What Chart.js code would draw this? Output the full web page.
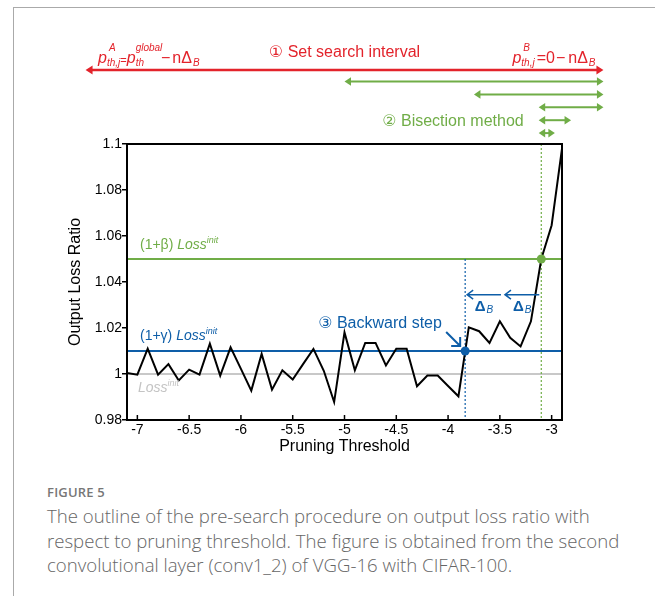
<!DOCTYPE html>
<html>
<head>
<meta charset="utf-8">
<script src="https://cdn.jsdelivr.net/npm/chart.js@4.4.1/dist/chart.umd.min.js"></script>
<style>
  body { margin: 0; background: #fff; width: 655px; height: 596px; overflow: hidden; position: relative; }
  .frame { position: absolute; left: 13px; top: 7px; right: -5px; bottom: -5px; border-top: 1.5px solid #aaa; border-left: 1.5px solid #aaa; }
  #lossChart { position: absolute; left: 0; top: 0; }
  .caption { position: absolute; left: 47px; top: 482px; font-family: "Open Sans", sans-serif; color: #666; }
  .fig-label { font-size: 13px; font-weight: 600; letter-spacing: 0.2px; color: #777; line-height: 20px; }
  .fig-text { font-size: 18.6px; font-weight: 300; line-height: 24.7px; white-space: nowrap; margin-top: 2px; }
</style>
</head>
<body>
<div class="frame"></div>
<canvas id="lossChart" width="655" height="470"></canvas>
<div class="caption">
  <div class="fig-label">FIGURE 5</div>
  <div class="fig-text">The outline of the pre-search procedure on output loss ratio with<br>respect to pruning threshold. The figure is obtained from the second<br>convolutional layer (conv1_2) of VGG-16 with CIFAR-100.</div>
</div>
<script>
// pruning threshold (x) and output loss ratio (y)
const thresholds = [
  -7.1, -7.0, -6.9, -6.8, -6.7, -6.6, -6.5, -6.4, -6.3, -6.2, -6.1,
  -6.0, -5.9, -5.8, -5.7, -5.6, -5.5, -5.4, -5.3, -5.2, -5.1,
  -5.0, -4.9, -4.8, -4.7, -4.6, -4.5, -4.4, -4.3, -4.2, -4.1,
  -4.0, -3.9, -3.8, -3.7, -3.6, -3.5, -3.4, -3.3, -3.2, -3.1,
  -3.0, -2.9,
];
const lossRatio = [
  1.0004, 0.9997, 1.011, 0.9997, 1.0043, 0.9972, 1.0019, 0.9997, 1.0132, 0.9993, 1.0116,
  1.0022, 0.9928, 1.0087, 0.9932, 1.0016, 0.9976, 1.0043, 1.0109, 1.0014, 0.9878,
  1.0181, 1.0016, 1.0135, 1.0135, 1.0037, 1.011, 1.011, 0.9947, 0.9993, 0.9993,
  0.9948, 0.9903, 1.0203, 1.0186, 1.0135, 1.0229, 1.0157, 1.012, 1.0229, 1.05,
  1.0647, 1.098,
];

const xRange = [-7.1, -2.9];
const yRange = [0.98, 1.1];
const xTicks = [-7, -6.5, -6, -5.5, -5, -4.5, -4, -3.5, -3];
const xTickLabels = ["-7", "-6.5", "-6", "-5.5", "-5", "-4.5", "-4", "-3.5", "-3"];
const yTicks = [0.98, 1, 1.02, 1.04, 1.06, 1.08, 1.1];
const yTickLabels = ["0.98", "1", "1.02", "1.04", "1.06", "1.08", "1.1"];

// 기준선
const lossInit = 1.0;
const gammaLevel = 1.01;
const betaLevel = 1.05;
const gammaCross = -3.835;
const betaCross = -3.1;
const deltaArrowLevel = 1.0345;

// search interval / bisection / backward steps
const searchInterval = [-7.5, -2.5];
const bisectionIntervals = [
  [-5, -2.5],
  [-3.75, -2.5],
  [-3.125, -2.5],
  [-3.125, -2.8125],
  [-3.125, -2.96875],
];
const backwardSteps = [-3.1, -3.47, -3.835];

const RED = "#e3232b";
const GREEN = "#70ad47";
const BLUE = "#0e5ea8";
const GRAY = "#c8c8c8";
const FONT = "'Liberation Sans', Arial, 'DejaVu Sans', 'Noto Sans CJK JP', sans-serif";

Chart.defaults.font.family = FONT;
Chart.defaults.color = "#000";

function richText(ctx, x, y, parts) {
  let cx = x;
  parts.forEach((p) => {
    ctx.font = p.f + " " + FONT;
    ctx.fillText(p.t, cx + (p.dx || 0), y + (p.dy || 0));
    if (!p.stack) cx += ctx.measureText(p.t).width + (p.dx || 0);
  });
  return cx;
}

function richWidth(ctx, parts) {
  let w = 0;
  parts.forEach((p) => {
    ctx.font = p.f + " " + FONT;
    if (!p.stack) w += ctx.measureText(p.t).width + (p.dx || 0);
  });
  return w;
}

function doubleArrow(ctx, x1, x2, y, color, lw, hl, hw) {
  ctx.strokeStyle = color;
  ctx.fillStyle = color;
  ctx.lineWidth = lw;
  ctx.beginPath();
  ctx.moveTo(x1 + hl - 1, y);
  ctx.lineTo(x2 - hl + 1, y);
  ctx.stroke();
  [[x1, 1], [x2, -1]].forEach(([tx, d]) => {
    ctx.beginPath();
    ctx.moveTo(tx, y);
    ctx.lineTo(tx + d * hl, y - hw);
    ctx.lineTo(tx + d * hl, y + hw);
    ctx.closePath();
    ctx.fill();
  });
}

const annotations = {
  id: "annotations",
  afterDraw(chart) {
    const { ctx, chartArea: a, scales } = chart;
    const x = scales.x;
    const y = scales.y;
    ctx.save();

    // 플롯 테두리
    ctx.strokeStyle = "#000";
    ctx.lineWidth = 2;
    ctx.strokeRect(a.left, a.top, a.right - a.left, a.bottom - a.top);

    // x축 눈금 (안쪽)
    ctx.lineWidth = 1.5;
    xTicks.forEach((v) => {
      const px = x.getPixelForValue(v);
      ctx.beginPath();
      ctx.moveTo(px, a.bottom);
      ctx.lineTo(px, a.bottom - 5);
      ctx.stroke();
    });

    // ① search interval
    const redY = a.top - 74;
    doubleArrow(ctx, x.getPixelForValue(searchInterval[0]), x.getPixelForValue(searchInterval[1]), redY, RED, 2.5, 7, 4.5);
    ctx.fillStyle = RED;
    ctx.textAlign = "center";
    ctx.font = "16px " + FONT;
    ctx.fillText("\u2460 Set search interval", x.getPixelForValue(-5), a.top - 87);
    ctx.textAlign = "left";
    richText(ctx, x.getPixelForValue(searchInterval[0]) + 12.5, a.top - 81, [
      { t: "p", f: "italic 16px" },
      { t: "A", f: "italic 10px", dy: -12, dx: 2, stack: true },
      { t: "th,j", f: "italic 10px", dy: 3 },
      { t: "=", f: "11px", dy: 1 },
      { t: "p", f: "italic 16px" },
      { t: "global", f: "italic 10px", dy: -12, stack: true },
      { t: "th", f: "italic 10px", dy: 3 },
      { t: "\u2212", f: "16px", dx: 17 },
      { t: "n\u0394", f: "16px", dx: 2 },
      { t: "B", f: "italic 10px", dy: 3, dx: 1 },
    ]);
    richText(ctx, x.getPixelForValue(searchInterval[1]) - 91, a.top - 81, [
      { t: "p", f: "italic 16px" },
      { t: "B", f: "italic 10px", dy: -12, dx: 2, stack: true },
      { t: "th,j", f: "italic 10px", dy: 3 },
      { t: "=0", f: "16px", dx: 2 },
      { t: "\u2212", f: "16px", dx: 1 },
      { t: "n\u0394", f: "16px", dx: 3 },
      { t: "B", f: "italic 10px", dy: 3, dx: 1 },
    ]);

    // ② bisection
    bisectionIntervals.forEach((iv, i) => {
      const ry = a.top - 62.5 + i * 12.9;
      doubleArrow(ctx, x.getPixelForValue(iv[0]), x.getPixelForValue(iv[1]), ry, GREEN, 2, 6.5, 4.3);
    });
    ctx.fillStyle = GREEN;
    ctx.textAlign = "right";
    ctx.font = "16px " + FONT;
    ctx.fillText("\u2461 Bisection method", x.getPixelForValue(bisectionIntervals[3][0]) - 15, a.top - 62.5 + 3 * 12.9 + 5.5);
    ctx.textAlign = "left";

    // 기준선 라벨
    const lossParts = [
      { t: "Loss", f: "italic 14px" },
      { t: "init", f: "italic 9px", dy: -6 },
    ];
    ctx.fillStyle = GREEN;
    richText(ctx, a.left + 13, y.getPixelForValue(betaLevel) - 10, [{ t: "(1+\u03b2) ", f: "14px" }].concat(lossParts));
    ctx.fillStyle = BLUE;
    richText(ctx, a.left + 13, y.getPixelForValue(gammaLevel) - 11, [{ t: "(1+\u03b3) ", f: "14px" }].concat(lossParts));
    ctx.fillStyle = "#c4c4c4";
    richText(ctx, a.left + 11, y.getPixelForValue(lossInit) + 18, lossParts);

    // ③ backward step
    const gx = x.getPixelForValue(gammaCross);
    const gy = y.getPixelForValue(gammaLevel);
    ctx.fillStyle = BLUE;
    ctx.font = "16px " + FONT;
    ctx.fillText("\u2462 Backward step", gx - 147, gy - 23.5);
    ctx.strokeStyle = BLUE;
    ctx.lineWidth = 2;
    ctx.beginPath();
    ctx.moveTo(gx - 19, gy - 19);
    ctx.lineTo(gx - 5, gy - 5);
    ctx.moveTo(gx - 14, gy - 5);
    ctx.lineTo(gx - 5, gy - 5);
    ctx.lineTo(gx - 5, gy - 14);
    ctx.stroke();

    // Δ_B 화살표
    const dy = y.getPixelForValue(deltaArrowLevel);
    ctx.lineWidth = 1.5;
    for (let i = 0; i < backwardSteps.length - 1; i++) {
      const rx = x.getPixelForValue(backwardSteps[i]) - 2;
      const lx = x.getPixelForValue(backwardSteps[i + 1]) + 2;
      ctx.beginPath();
      ctx.moveTo(rx, dy);
      ctx.lineTo(lx, dy);
      ctx.moveTo(lx + 6, dy - 4.5);
      ctx.lineTo(lx, dy);
      ctx.lineTo(lx + 6, dy + 4.5);
      ctx.stroke();
      const parts = [
        { t: "\u0394", f: "bold 15px" },
        { t: "B", f: "italic 10px", dy: 2, dx: 1 },
      ];
      const w = richWidth(ctx, parts);
      richText(ctx, (lx + rx) / 2 - w / 2, dy + 16, parts);
    }

    ctx.restore();
  },
};

function segment(x1, y1, x2, y2) {
  return [{ x: x1, y: y1 }, { x: x2, y: y2 }];
}

const ctx = document.getElementById("lossChart").getContext("2d");
const lossChart = new Chart(ctx, {
  type: "scatter",
  data: {
    datasets: [
      {
        label: "beta point",
        data: [{ x: betaCross, y: betaLevel }],
        pointRadius: 4.5,
        pointBackgroundColor: GREEN,
        pointBorderWidth: 0,
        order: 0,
      },
      {
        label: "gamma point",
        data: [{ x: gammaCross, y: gammaLevel }],
        pointRadius: 4.5,
        pointBackgroundColor: BLUE,
        pointBorderWidth: 0,
        order: 0,
      },
      {
        label: "loss ratio",
        data: thresholds.map((t, i) => ({ x: t, y: lossRatio[i] })),
        showLine: true,
        borderColor: "#000",
        borderWidth: 2,
        pointRadius: 0,
        order: 1,
      },
      {
        label: "gamma cross",
        data: segment(gammaCross, betaLevel, gammaCross, yRange[0]),
        showLine: true,
        borderColor: BLUE,
        borderWidth: 1.2,
        borderDash: [2, 2],
        pointRadius: 0,
        order: 2,
      },
      {
        label: "beta cross",
        data: segment(betaCross, yRange[1], betaCross, yRange[0]),
        showLine: true,
        borderColor: GREEN,
        borderWidth: 1.2,
        borderDash: [2, 2],
        pointRadius: 0,
        order: 2,
      },
      {
        label: "beta level",
        data: segment(xRange[0], betaLevel, xRange[1], betaLevel),
        showLine: true,
        borderColor: GREEN,
        borderWidth: 2,
        pointRadius: 0,
        order: 3,
      },
      {
        label: "gamma level",
        data: segment(xRange[0], gammaLevel, xRange[1], gammaLevel),
        showLine: true,
        borderColor: BLUE,
        borderWidth: 2,
        pointRadius: 0,
        order: 3,
      },
      {
        label: "init level",
        data: segment(xRange[0], lossInit, xRange[1], lossInit),
        showLine: true,
        borderColor: GRAY,
        borderWidth: 2,
        pointRadius: 0,
        order: 3,
      },
    ],
  },
  options: {
    responsive: false,
    animation: false,
    layout: { padding: { left: 66, top: 144, right: 93, bottom: 0 } },
    plugins: { legend: { display: false }, tooltip: { enabled: false } },
    scales: {
      x: {
        type: "linear",
        min: xRange[0],
        max: xRange[1],
        afterFit: (s) => { s.height = 50; },
        afterBuildTicks: (s) => { s.ticks = xTicks.map((v) => ({ value: v })); },
        grid: { display: false, drawTicks: false },
        border: { display: false },
        ticks: {
          autoSkip: false,
          maxRotation: 0,
          padding: 2,
          font: { size: 14 },
          callback: (v, i) => xTickLabels[i],
        },
        title: {
          display: true,
          text: "Pruning Threshold",
          font: { size: 16 },
          padding: { top: 0, bottom: 14 },
        },
      },
      y: {
        min: yRange[0],
        max: yRange[1],
        afterFit: (s) => { s.width = 61; },
        afterBuildTicks: (s) => { s.ticks = yTicks.map((v) => ({ value: v })); },
        grid: { drawOnChartArea: false, drawTicks: true, tickLength: 5, color: "#000", lineWidth: 1.5 },
        border: { display: false },
        ticks: {
          padding: 0,
          font: { size: 14 },
          callback: (v, i) => yTickLabels[i],
        },
        title: {
          display: true,
          text: "Output Loss Ratio",
          font: { size: 16 },
          padding: { top: 0, bottom: 0 },
        },
      },
    },
  },
  plugins: [annotations],
});
</script>
</body>
</html>
